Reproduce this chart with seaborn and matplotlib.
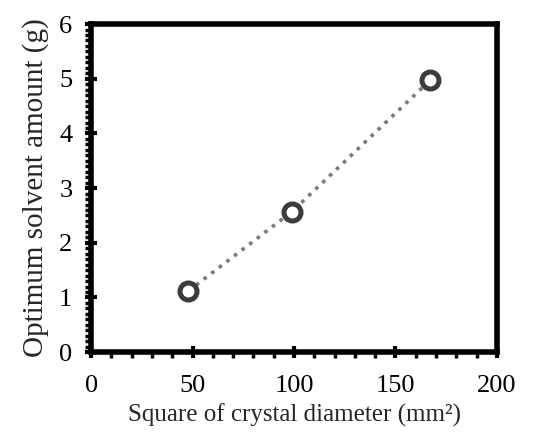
import matplotlib
matplotlib.use('Agg')
import matplotlib.pyplot as plt
import seaborn as sns
import pandas as pd
from matplotlib.ticker import MultipleLocator

# ------------------ DATA ------------------
diameter_sq = [48, 99, 167]          # square of crystal diameter (mm^2)
solvent_amount = [1.12, 2.57, 4.97]  # optimum solvent amount (g)
x_ticks = [0, 50, 100, 150, 200]
y_ticks = [0, 1, 2, 3, 4, 5, 6]
# ------------------------------------------

df = pd.DataFrame({'x': diameter_sq, 'y': solvent_amount})

sns.set_style('ticks')
plt.rcParams['font.family'] = ['Liberation Serif', 'DejaVu Serif']

fig = plt.figure(figsize=(5.39, 4.38), dpi=100)
ax = fig.add_axes([0.169, 0.196, 0.753, 0.749])

sns.lineplot(data=df, x='x', y='y', ax=ax, color='#7a7a7a', linestyle=':',
             linewidth=2.6, zorder=2)
sns.scatterplot(data=df, x='x', y='y', ax=ax, s=150, marker='o',
                facecolor='white', edgecolor='#3c3c3c', linewidth=3.6, zorder=3)

ax.set_xlim(0, 200)
ax.set_ylim(0, 6)
ax.set_xticks(x_ticks)
ax.set_yticks(y_ticks)
ax.xaxis.set_minor_locator(MultipleLocator(10))
ax.yaxis.set_minor_locator(MultipleLocator(0.1))

for s in ax.spines.values():
    s.set_visible(True)
    s.set_linewidth(4)
    s.set_color('black')

ax.tick_params(which='major', direction='inout', length=9, width=3,
               labelsize=19, colors='black')
ax.tick_params(which='minor', direction='out', length=4, width=2.5,
               colors='black')
ax.tick_params(axis='x', which='major', pad=12)
ax.tick_params(axis='y', which='major', pad=9)
ax.tick_params(axis='y', which='both', right=False)
ax.tick_params(axis='x', which='both', top=False)

ax.set_xlabel('Square of crystal diameter (mm\u00b2)', fontsize=18, labelpad=5)
ax.set_ylabel('Optimum solvent amount (g)', fontsize=21, labelpad=7)

fig.savefig('out.png', dpi=100)
